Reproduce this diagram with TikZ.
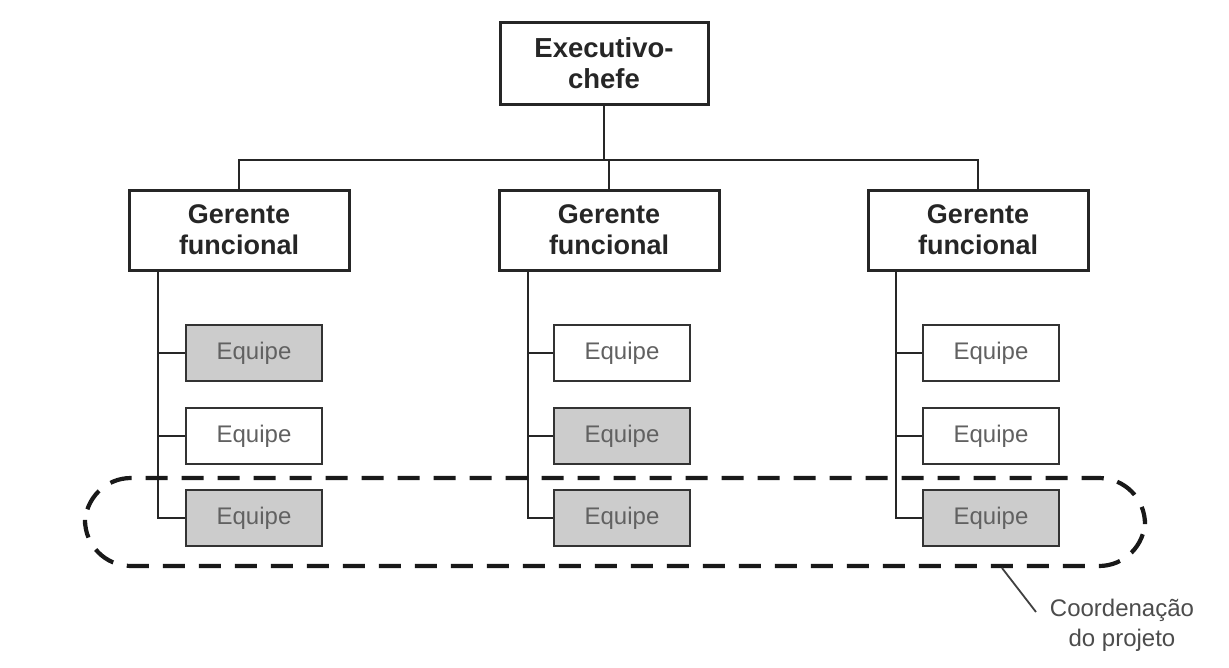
\documentclass[tikz,border=0pt]{standalone}
\usepackage{fontspec}
\setmainfont{Liberation Sans}
\begin{document}
\begin{tikzpicture}[x=1pt,y=-1pt,
  boss/.style={draw=black!85,line width=3pt,fill=white,minimum width=208pt,minimum height=82pt,
    align=center,font=\fontsize{27.5}{31}\selectfont\bfseries,text=black!85},
  mgr/.style={draw=black!85,line width=3pt,fill=white,minimum width=220pt,minimum height=80pt,
    align=center,font=\fontsize{27}{31}\selectfont\bfseries,text=black!85},
  team/.style={draw=black!80,line width=2.8pt,minimum width=136pt,minimum height=56pt,
    font=\fontsize{24}{25}\selectfont,text=black!62},
  teamw/.style={team,fill=white},
  teamg/.style={team,fill=black!20},
  link/.style={draw=black!85,line width=2.5pt},
  coord/.style={dashed,line width=4.2pt,dash pattern=on 22pt off 14pt,draw=black!90}]
\useasboundingbox (0,0) rectangle (1229,667);
\fill[white] (0,0) rectangle (1229,667);

% chief executive
\node[boss] (ceo) at (604,63) {Executivo-\\chefe};

% functional managers
\node[mgr] (g1) at (239,230) {Gerente\\funcional};
\node[mgr] (g2) at (609,230) {Gerente\\funcional};
\node[mgr] (g3) at (978,230) {Gerente\\funcional};

\coordinate (bar) at (604,160);
\draw[link] (ceo.south) -- (bar);
\draw[link] (g1.north) |- (bar) -| (g3.north);
\draw[link] (bar) -| (g2.north);

% teams
\node[teamg] (e11) at (254,353) {Equipe};
\node[teamw] (e12) at (254,436) {Equipe};
\node[teamg] (e13) at (254,518) {Equipe};
\node[teamw] (e21) at (622,353) {Equipe};
\node[teamg] (e22) at (622,436) {Equipe};
\node[teamg] (e23) at (622,518) {Equipe};
\node[teamw] (e31) at (991,353) {Equipe};
\node[teamw] (e32) at (991,436) {Equipe};
\node[teamg] (e33) at (991,518) {Equipe};

% reporting lines
\foreach \g/\x/\a/\b/\c in {g1/158/e11/e12/e13, g2/528/e21/e22/e23, g3/896/e31/e32/e33}{
  \coordinate (t\g) at (\x,270);
  \draw[link] (t\g) |- (\c.west);
  \draw[link] (\a.west) -- (\a.west -| t\g);
  \draw[link] (\b.west) -- (\b.west -| t\g);
}

% project coordination loop
\draw[coord,rounded corners=46pt] (85,478) rectangle (1145,566);
\coordinate (tip) at (1002,568);
\node[font=\fontsize{24}{30}\selectfont,text=black!70,align=center] (lbl) at (1122,625) {Coordenação\\do projeto};
\draw[draw=black!75,line width=1.8pt] (tip) -- (1036,612);
\end{tikzpicture}
\end{document}
